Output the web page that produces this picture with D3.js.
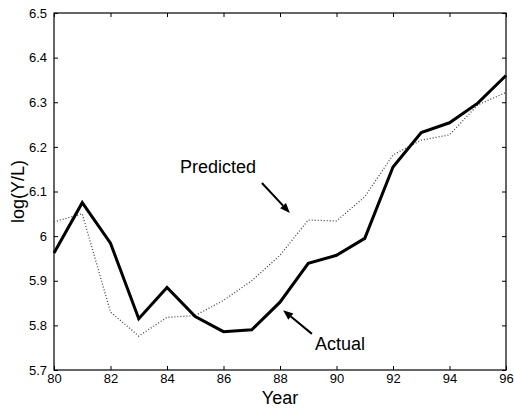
<!DOCTYPE html>
<html>
<head>
<meta charset="utf-8">
<script src="https://cdn.jsdelivr.net/npm/d3@7"></script>
<style>
  body { margin: 0; background: #fff; }
  svg { display: block; font-family: "Liberation Sans", Arial, sans-serif; }
</style>
</head>
<body>
<svg id="chart" width="514" height="409"></svg>
<script>
var years = [80, 81, 82, 83, 84, 85, 86, 87, 88, 89, 90, 91, 92, 93, 94, 95, 96]
var actual = [5.962, 6.075, 5.984, 5.815, 5.885, 5.82, 5.786, 5.79, 5.852, 5.939, 5.957, 5.995, 6.155, 6.232, 6.254, 6.298, 6.36]
var predicted = [6.032, 6.05, 5.83, 5.776, 5.818, 5.822, 5.856, 5.9, 5.957, 6.036, 6.034, 6.088, 6.182, 6.215, 6.227, 6.294, 6.322]
var xTicks = [80, 82, 84, 86, 88, 90, 92, 94, 96]
var yTicks = [5.7, 5.8, 5.9, 6, 6.1, 6.2, 6.3, 6.4, 6.5]

// annotations: label position and arrow (from -> tip), in data units
var notes = [
  {text: "Predicted", x: 84.46, y: 6.1415, from: [87.36, 6.119], to: [88.35, 6.052]},
  {text: "Actual", x: 89.24, y: 5.745, from: [89.13, 5.781], to: [88.11, 5.834]}
]

var margin = {left: 54, top: 13, right: 8, bottom: 39}
var svg = d3.select("#chart")
var width = 514 - margin.left - margin.right
var height = 409 - margin.top - margin.bottom

var x = d3.scaleLinear().domain([80, 96]).range([0, width])
var y = d3.scaleLinear().domain([5.7, 6.5]).range([height, 0])

var g = svg.append("g").attr("transform", "translate(" + margin.left + "," + margin.top + ")")

var fmtY = function(d){ return d3.format("")(+d.toFixed(1)) }

// ticks on all four sides, pointing inward
var axisBottom = d3.axisBottom(x).tickValues(xTicks).tickSizeInner(-4).tickSizeOuter(0).tickPadding(4)
var axisTop = d3.axisTop(x).tickValues(xTicks).tickSizeInner(-4).tickSizeOuter(0).tickFormat("")
var axisLeft = d3.axisLeft(y).tickValues(yTicks).tickSizeInner(-4).tickSizeOuter(0).tickPadding(7).tickFormat(fmtY)
var axisRight = d3.axisRight(y).tickValues(yTicks).tickSizeInner(-4).tickSizeOuter(0).tickFormat("")

var styleAxis = function(sel){
  sel.selectAll("path").remove()
  sel.selectAll("line").attr("stroke", "#000").attr("stroke-width", 1)
  sel.selectAll("text").attr("fill", "#000").style("font-size", "13px").style("font-family", "Liberation Sans, Arial, sans-serif")
}

g.append("g").attr("transform", "translate(0," + height + ")").call(axisBottom).call(styleAxis)
g.append("g").call(axisTop).call(styleAxis)
g.append("g").call(axisLeft).call(styleAxis)
g.append("g").attr("transform", "translate(" + width + ",0)").call(axisRight).call(styleAxis)

g.append("rect")
    .attr("x", 0).attr("y", 0)
    .attr("width", width).attr("height", height)
    .attr("fill", "none").attr("stroke", "#000").attr("stroke-width", 1.2)

var line = function(vals){
  return d3.line()
    .x(function(d, i){ return x(years[i]) })
    .y(function(d){ return y(d) })(vals)
}

g.append("path")
    .attr("d", line(predicted))
    .attr("fill", "none")
    .attr("stroke", "#444")
    .attr("stroke-width", 1.3)
    .attr("stroke-dasharray", "1,2")

g.append("path")
    .attr("d", line(actual))
    .attr("fill", "none")
    .attr("stroke", "#000")
    .attr("stroke-width", 3)
    .attr("stroke-linejoin", "miter")

// annotations
notes.forEach(function(n){
  g.append("text")
      .attr("x", x(n.x)).attr("y", y(n.y))
      .style("font-size", "18px")
      .attr("fill", "#000")
      .text(n.text)

  var x0 = x(n.from[0]), y0 = y(n.from[1])
  var x1 = x(n.to[0]), y1 = y(n.to[1])
  var ang = Math.atan2(y1 - y0, x1 - x0)
  var hl = 10, hw = 4
  var bx = x1 - hl * Math.cos(ang), by = y1 - hl * Math.sin(ang)
  g.append("line")
      .attr("x1", x0).attr("y1", y0)
      .attr("x2", bx).attr("y2", by)
      .attr("stroke", "#000").attr("stroke-width", 2)
  var pts = [
    [x1, y1],
    [bx + hw * Math.sin(ang), by - hw * Math.cos(ang)],
    [bx - hw * Math.sin(ang), by + hw * Math.cos(ang)]
  ]
  g.append("path")
      .attr("d", "M" + pts.map(function(p){ return p.join(",") }).join("L") + "Z")
      .attr("fill", "#000")
})

// axis titles
svg.append("text")
    .attr("x", margin.left + width / 2).attr("y", 404)
    .attr("text-anchor", "middle")
    .style("font-size", "18px")
    .text("Year")

svg.append("text")
    .attr("transform", "translate(24," + (margin.top + height / 2) + ") rotate(-90)")
    .attr("text-anchor", "middle")
    .style("font-size", "18px")
    .text("log(Y/L)")
</script>
</body>
</html>
